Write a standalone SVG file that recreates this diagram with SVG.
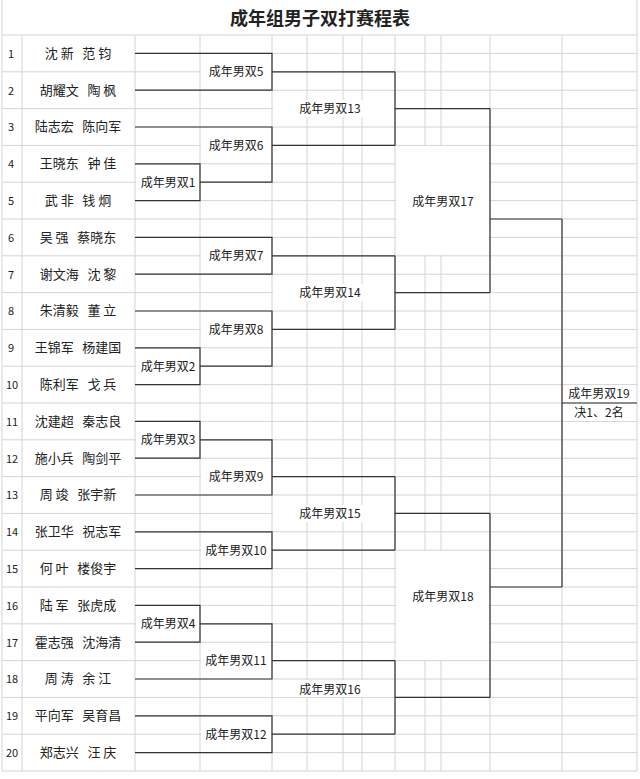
<svg xmlns="http://www.w3.org/2000/svg" width="640" height="779" viewBox="0 0 640 779">
<style>
.g{stroke:#d4d4d4;stroke-width:1;fill:none}
.b{stroke:#333;stroke-width:1.2;fill:none}
text{font-family:"Noto Sans CJK SC","Liberation Sans",sans-serif;fill:#222;white-space:pre}
.n{font-size:11px;text-anchor:middle}
.p{font-size:13px;text-anchor:middle}
.m{font-size:12px;text-anchor:middle}
.w{fill:#fff;stroke:none}
</style>
<rect width="640" height="779" fill="#fff"/>
<g id="grid">
<path class="g" d="M2,0V771M637,0V771M22,35V771M135,35V771M200,35V771M272,35V771M307,35V771M343,35V771M362,35V771M395,35V771M425,35V771M441,35V771M490,35V771M562,35V771"/>
<path class="g" d="M2,35H637M2,71.8H637M2,108.6H637M2,145.4H637M2,182.2H637M2,219H637M2,255.8H637M2,292.6H637M2,329.4H637M2,366.2H637M2,403H637M2,439.8H637M2,476.6H637M2,513.4H637M2,550.2H637M2,587H637M2,623.8H637M2,660.6H637M2,697.4H637M2,734.2H637M2,771H637"/>
<path class="g" d="M135,53.4H637M135,90.2H637M135,127H637M135,163.8H637M135,200.6H637M135,237.4H637M135,274.2H637M135,311H637M135,347.8H637M135,384.6H637M135,421.4H637M135,458.2H637M135,495H637M135,531.8H637M135,568.6H637M135,605.4H637M135,642.2H637M135,679H637M135,715.8H637M135,752.6H637"/>
<rect class="w" x="136" y="174" width="63" height="17"/>
<rect class="w" x="136" y="358" width="63" height="17"/>
<rect class="w" x="136" y="431" width="63" height="17"/>
<rect class="w" x="136" y="615" width="63" height="17"/>
<rect class="w" x="201" y="63" width="70" height="17"/>
<rect class="w" x="201" y="137" width="70" height="17"/>
<rect class="w" x="201" y="247" width="70" height="17"/>
<rect class="w" x="201" y="321" width="70" height="17"/>
<rect class="w" x="201" y="468" width="70" height="17"/>
<rect class="w" x="201" y="542" width="70" height="17"/>
<rect class="w" x="201" y="652" width="70" height="17"/>
<rect class="w" x="201" y="726" width="70" height="17"/>
<rect class="w" x="273" y="100" width="121" height="17"/>
<rect class="w" x="273" y="284" width="121" height="17"/>
<rect class="w" x="273" y="505" width="121" height="17"/>
<rect class="w" x="273" y="680" width="121" height="17"/>
<rect class="w" x="396" y="146" width="93" height="109"/>
<rect class="w" x="396" y="551" width="93" height="109"/>
<rect class="w" x="563" y="385" width="73" height="17"/>
<rect class="w" x="563" y="404" width="73" height="17"/>
</g>
<text x="320" y="25" style="font-size:18px;font-weight:bold;text-anchor:middle">成年组男子双打赛程表</text>
<g id="players">
<text class="n" x="11" y="58">1</text><text class="p" x="78" y="58">沈 新   范 钧</text>
<text class="n" x="11" y="95">2</text><text class="p" x="78" y="95">胡耀文   陶 枫</text>
<text class="n" x="11" y="131">3</text><text class="p" x="78" y="131">陆志宏   陈向军</text>
<text class="n" x="11" y="168">4</text><text class="p" x="78" y="168">王晓东   钟 佳</text>
<text class="n" x="11" y="205">5</text><text class="p" x="78" y="205">武 非   钱 炯</text>
<text class="n" x="11" y="242">6</text><text class="p" x="78" y="242">吴 强   蔡晓东</text>
<text class="n" x="11" y="279">7</text><text class="p" x="78" y="279">谢文海   沈 黎</text>
<text class="n" x="11" y="315">8</text><text class="p" x="78" y="315">朱清毅   董 立</text>
<text class="n" x="11" y="352">9</text><text class="p" x="78" y="352">王锦军   杨建国</text>
<text class="n" x="12" y="389">10</text><text class="p" x="78" y="389">陈利军   戈 兵</text>
<text class="n" x="12" y="426">11</text><text class="p" x="78" y="426">沈建超   秦志良</text>
<text class="n" x="12" y="463">12</text><text class="p" x="78" y="463">施小兵   陶剑平</text>
<text class="n" x="12" y="499">13</text><text class="p" x="78" y="499">周 竣   张宇新</text>
<text class="n" x="12" y="536">14</text><text class="p" x="78" y="536">张卫华   祝志军</text>
<text class="n" x="12" y="573">15</text><text class="p" x="78" y="573">何 叶   楼俊宇</text>
<text class="n" x="12" y="610">16</text><text class="p" x="78" y="610">陆 军   张虎成</text>
<text class="n" x="12" y="647">17</text><text class="p" x="78" y="647">霍志强   沈海清</text>
<text class="n" x="12" y="683">18</text><text class="p" x="78" y="683">周 涛   余 江</text>
<text class="n" x="12" y="720">19</text><text class="p" x="78" y="720">平向军   吴育昌</text>
<text class="n" x="12" y="757">20</text><text class="p" x="78" y="757">郑志兴   汪 庆</text>
</g>
<g id="connectors">
<path class="b" d="M135,53.4H272V90.2H135M272,71.8H395"/>
<path class="b" d="M135,127H272V182.2H200M135,163.8H200V200.6H135M272,145.4H395"/>
<path class="b" d="M135,237.4H272V274.2H135M272,255.8H395"/>
<path class="b" d="M135,311H272V366.2H200M135,347.8H200V384.6H135M272,329.4H395"/>
<path class="b" d="M135,421.4H200V458.2H135M200,439.8H272V495H135M272,476.6H395"/>
<path class="b" d="M135,531.8H272V568.6H135M272,550.2H395"/>
<path class="b" d="M135,605.4H200V642.2H135M200,623.8H272V679H135M272,660.6H395"/>
<path class="b" d="M135,715.8H272V752.6H135M272,734.2H395"/>
<path class="b" d="M395,71.8V145.4M395,108.6H490M395,255.8V329.4M395,292.6H490M490,108.6V292.6M490,219H562"/>
<path class="b" d="M395,476.6V550.2M395,513.4H490M395,660.6V734.2M395,697.4H490M490,513.4V697.4M490,587H562"/>
<path class="b" d="M562,219V587M562,403H637"/>
</g>
<g id="labels">
<text class="m" x="168" y="187">成年男双1</text>
<text class="m" x="168" y="371">成年男双2</text>
<text class="m" x="168" y="444">成年男双3</text>
<text class="m" x="168" y="628">成年男双4</text>
<text class="m" x="236" y="76">成年男双5</text>
<text class="m" x="236" y="150">成年男双6</text>
<text class="m" x="236" y="260">成年男双7</text>
<text class="m" x="236" y="334">成年男双8</text>
<text class="m" x="236" y="481">成年男双9</text>
<text class="m" x="236" y="555">成年男双10</text>
<text class="m" x="236" y="665">成年男双11</text>
<text class="m" x="236" y="739">成年男双12</text>
<text class="m" x="330" y="113">成年男双13</text>
<text class="m" x="330" y="297">成年男双14</text>
<text class="m" x="330" y="518">成年男双15</text>
<text class="m" x="330" y="694">成年男双16</text>
<text class="m" x="443" y="206">成年男双17</text>
<text class="m" x="443" y="601">成年男双18</text>
<text class="m" x="599" y="398">成年男双19</text>
<text class="m" x="599" y="417">决1、2名</text>
</g>
</svg>
